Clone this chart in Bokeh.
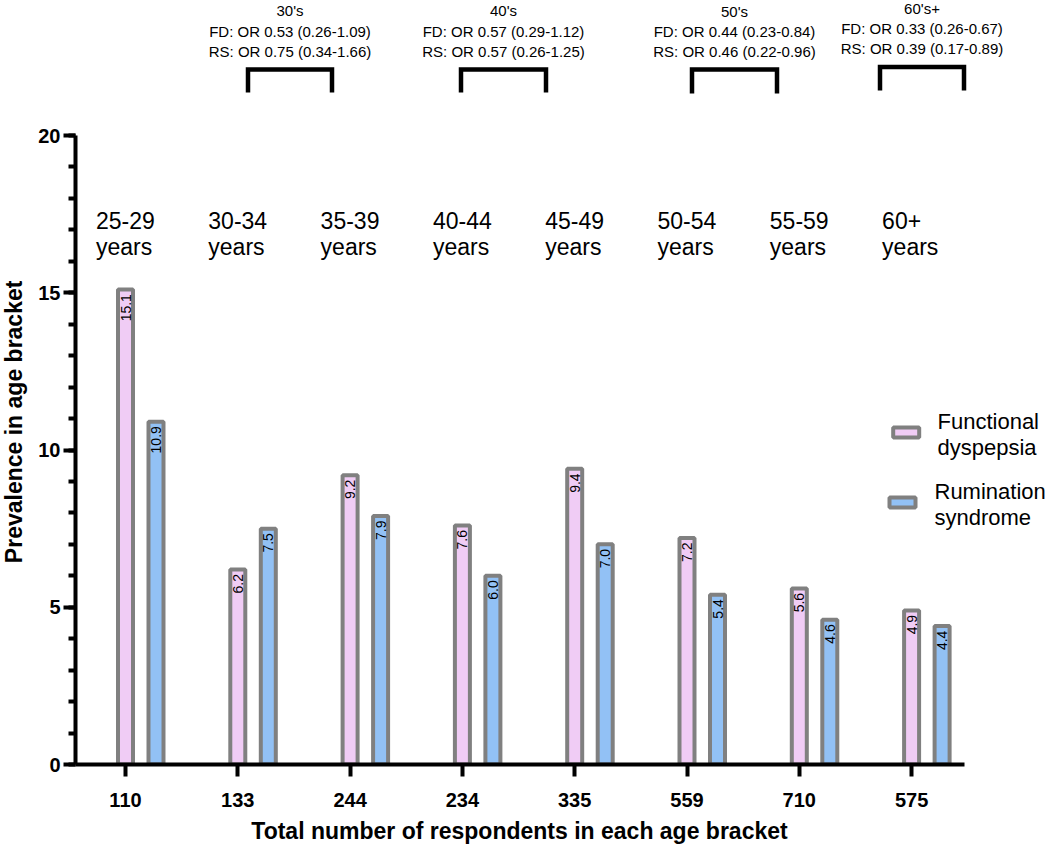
import math
from bokeh.plotting import figure
from bokeh.layouts import row, column
from bokeh.models import Range1d, FixedTicker, SingleIntervalTicker, ColumnDataSource
from bokeh.core.properties import value
from bokeh.embed import file_html
from bokeh.resources import INLINE

# ---------------- data ----------------
respondents = ["110", "133", "244", "234", "335", "559", "710", "575"]
age_line1 = ["25-29", "30-34", "35-39", "40-44", "45-49", "50-54", "55-59", "60+"]
age_line2 = ["years"] * 8
fd_prev = [15.1, 6.2, 9.2, 7.6, 9.4, 7.2, 5.6, 4.9]
rs_prev = [10.9, 7.5, 7.9, 6.0, 7.0, 5.4, 4.6, 4.4]
legend_fd = ["Functional", "dyspepsia"]
legend_rs = ["Rumination", "syndrome"]
decades = ["30's", "40's", "50's", "60's+"]
fd_or = ["FD: OR 0.53 (0.26-1.09)", "FD: OR 0.57 (0.29-1.12)",
         "FD: OR 0.44 (0.23-0.84)", "FD: OR 0.33 (0.26-0.67)"]
rs_or = ["RS: OR 0.75 (0.34-1.66)", "RS: OR 0.57 (0.26-1.25)",
         "RS: OR 0.46 (0.22-0.96)", "RS: OR 0.39 (0.17-0.89)"]
y_title = "Prevalence in age bracket"
x_title = "Total number of respondents in each age bracket"

# ---------------- layout / style ----------------
FONT = "Liberation Sans"
PINK = "#F0CCF5"
BLUE = "#92C1F5"
GRAY = "#808080"
TOTAL_W, TOTAL_H = 1050, 844
YT_W = 30          # width of the strip holding the y title
MAIN_H = 815       # height of the main figure
PX_X = 112.3       # pixels per group
PX_Y = 31.45       # pixels per unit of prevalence
X0 = 125           # page x of group 0
Y0 = 764           # page y of value 0
LEFT = 75          # page x of the y axis


def X(px):
    return (px - X0) / PX_X


def Y(py):
    return (Y0 - py) / PX_Y


BAR_W = 15 / PX_X
RS_SHIFT = 30.5 / PX_X

p = figure(width=TOTAL_W - YT_W, height=MAIN_H, output_backend="svg", toolbar_location=None,
           x_range=Range1d(X(LEFT), X(TOTAL_W)),
           y_range=Range1d(0, Y(0)),
           min_border_left=LEFT - YT_W, min_border_right=0,
           min_border_top=0, min_border_bottom=MAIN_H - Y0)
p.outline_line_color = None
p.xgrid.visible = False
p.ygrid.visible = False
p.background_fill_color = "white"
p.border_fill_color = "white"

idx = list(range(len(fd_prev)))
src = ColumnDataSource(dict(
    x_fd=[i for i in idx],
    x_rs=[i + RS_SHIFT for i in idx],
    fd=fd_prev, rs=rs_prev,
    fd_txt=[f"{v:.1f}" for v in fd_prev],
    rs_txt=[f"{v:.1f}" for v in rs_prev],
    fd_ty=[v - 4.5 / PX_Y for v in fd_prev],
    rs_ty=[v - 4.5 / PX_Y for v in rs_prev],
))

p.vbar(x="x_fd", top="fd", bottom=0, width=BAR_W, source=src,
       fill_color=PINK, line_color=GRAY, line_width=4)
p.vbar(x="x_rs", top="rs", bottom=0, width=BAR_W, source=src,
       fill_color=BLUE, line_color=GRAY, line_width=4)

for xc, yc, tc in (("x_fd", "fd_ty", "fd_txt"), ("x_rs", "rs_ty", "rs_txt")):
    p.text(x=xc, y=yc, text=tc, source=src, angle=math.pi / 2,
           text_align="right", text_baseline="middle",
           text_font=value(FONT), text_font_size="14px", text_color="black")

# age bracket labels
p.text(x=[i - 29.5 / PX_X for i in idx], y=[Y(220)] * len(idx), text=age_line1,
       text_align="left", text_baseline="middle",
       text_font=value(FONT), text_font_size="23px", text_color="black")
p.text(x=[i - 29.5 / PX_X for i in idx], y=[Y(246)] * len(idx), text=age_line2,
       text_align="left", text_baseline="middle",
       text_font=value(FONT), text_font_size="23px", text_color="black")

# decade brackets and odds ratios
br_left = [247.5, 460.5, 691.5, 879.5]
br_right = [331.5, 545.5, 776.5, 963.5]
br_top = [69, 69, 69, 66.5]
br_bot = [92, 92, 93, 90]
txt_rows = [(10, 31, 51), (10, 31, 51), (10.5, 31, 51), (8, 28, 48)]
xs, ys = [], []
for l, r, t, b in zip(br_left, br_right, br_top, br_bot):
    xs.append([X(l), X(l), X(r), X(r)])
    ys.append([Y(b), Y(t), Y(t), Y(b)])
p.multi_line(xs=xs, ys=ys, line_color="black", line_width=4.5, line_join="miter")
for k in range(len(decades)):
    cx = X((br_left[k] + br_right[k]) / 2)
    rows = txt_rows[k]
    p.text(x=[cx] * 3, y=[Y(rows[0]), Y(rows[1]), Y(rows[2])],
           text=[decades[k], fd_or[k], rs_or[k]],
           text_align="center", text_baseline="middle",
           text_font=value(FONT), text_font_size="15px", text_color="black")

# legend (manual)
p.rect(x=[X(905.7)], y=[Y(432)], width=26, height=10, width_units="screen",
       height_units="screen", fill_color=PINK, line_color=GRAY, line_width=4)
p.rect(x=[X(902)], y=[Y(502)], width=26, height=10, width_units="screen",
       height_units="screen", fill_color=BLUE, line_color=GRAY, line_width=4)
p.text(x=[X(937)] * 2, y=[Y(421), Y(447)], text=legend_fd,
       text_align="left", text_baseline="middle",
       text_font=value(FONT), text_font_size="22px", text_color="black")
p.text(x=[X(934)] * 2, y=[Y(491), Y(517)], text=legend_rs,
       text_align="left", text_baseline="middle",
       text_font=value(FONT), text_font_size="22px", text_color="black")

# axes
xa = p.xaxis[0]
xa.ticker = FixedTicker(ticks=idx, minor_ticks=[])
xa.major_label_overrides = {i: respondents[i] for i in idx}
xa.bounds = (X(LEFT), X(964))
ya = p.yaxis[0]
ya.ticker = SingleIntervalTicker(interval=5, num_minor_ticks=5)
ya.bounds = (0, 20)
for ax in (xa, ya):
    ax.axis_line_width = 4
    ax.axis_line_color = "black"
    ax.major_tick_line_width = 4
    ax.major_tick_line_color = "black"
    ax.minor_tick_line_width = 4
    ax.minor_tick_line_color = "black"
    ax.major_tick_in = 0
    ax.major_tick_out = 12
    ax.minor_tick_in = 0
    ax.minor_tick_out = 7
    ax.major_label_text_font = FONT
    ax.major_label_text_font_size = "20px"
    ax.major_label_text_font_style = "bold"
    ax.major_label_text_color = "black"
xa.major_label_standoff = 16
ya.major_label_standoff = 3


def strip(w, h):
    f = figure(width=w, height=h, output_backend="svg", toolbar_location=None,
               x_range=Range1d(0, w), y_range=Range1d(h, 0),
               x_axis_location=None, y_axis_location=None,
               min_border=0, min_border_left=0, min_border_right=0,
               min_border_top=0, min_border_bottom=0)
    f.outline_line_color = None
    f.xgrid.visible = False
    f.ygrid.visible = False
    f.background_fill_color = "white"
    f.border_fill_color = "white"
    return f


# y-axis title strip (coordinates are page pixels)
yt = strip(YT_W, MAIN_H)
yt.text(x=[13], y=[(Y0 + (Y0 - 20 * PX_Y)) / 2], text=[y_title], angle=math.pi / 2,
        text_align="center", text_baseline="middle",
        text_font=value(FONT), text_font_size="23px", text_font_style="bold",
        text_color="black")

# x-axis title strip
xt_h = TOTAL_H - MAIN_H
xt = strip(TOTAL_W, xt_h)
xt.text(x=[(LEFT + 963) / 2], y=[xt_h / 2 + 0.5], text=[x_title],
        text_align="center", text_baseline="middle",
        text_font=value(FONT), text_font_size="23px", text_font_style="bold",
        text_color="black")

layout = column(row(yt, p, spacing=0), xt, spacing=0)
open("out.html", "w").write(file_html(layout, INLINE))
